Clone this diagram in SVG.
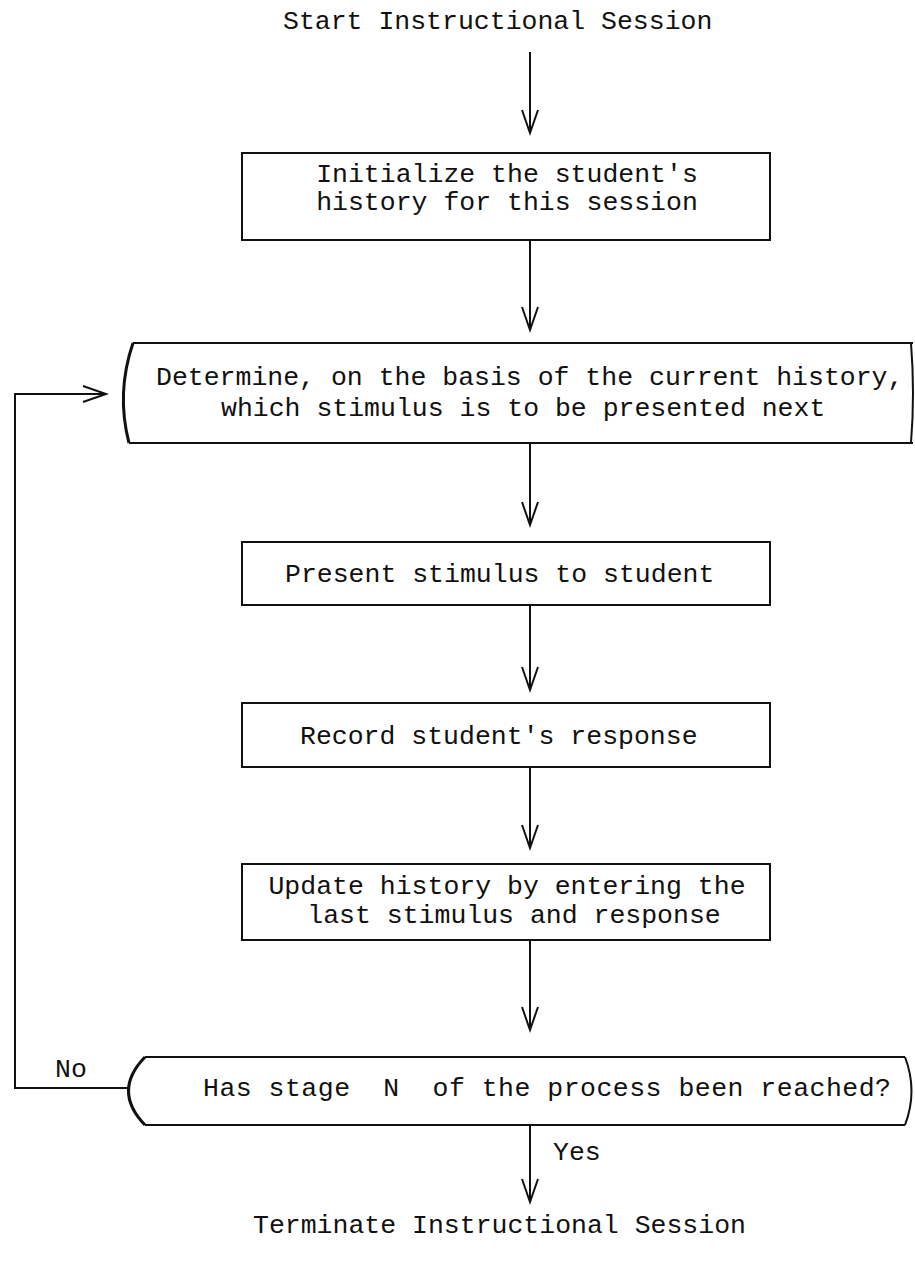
<svg xmlns="http://www.w3.org/2000/svg" width="915" height="1266" viewBox="0 0 915 1266">
<style>
  .t { font-family: "Liberation Mono", "DejaVu Sans Mono", monospace; font-size: 26.5px; fill: #111; }
  .box { fill: none; stroke: #111; stroke-width: 2; }
  .br { fill: none; stroke: #111; stroke-width: 3; }
  .c { fill: none; stroke: #111; stroke-width: 2; }
</style>
<defs>
  <marker id="ah" markerUnits="userSpaceOnUse" markerWidth="30" markerHeight="24" viewBox="0 0 30 24" refX="24" refY="9" orient="auto">
    <path d="M1,1 L24,9 L1,17" fill="none" stroke="#111" stroke-width="2"/>
  </marker>
</defs>
<rect width="915" height="1266" fill="#fff"/>

<g id="start">
  <text class="t" x="283" y="29">Start Instructional Session</text>
</g>

<g id="init">
  <rect class="box" x="242" y="153" width="528" height="87"/>
  <text class="t" x="507" y="182" text-anchor="middle">Initialize the student's</text>
  <text class="t" x="507" y="210" text-anchor="middle">history for this session</text>
</g>

<g id="determine">
  <path class="box" d="M133,343 H913 M129,443 H913"/>
  <path class="br" d="M133,343 Q116,393 129,443"/>
  <path class="box" d="M911,343 Q915,393 911,443"/>
  <text class="t" x="156" y="385">Determine, on the basis of the current history,</text>
  <text class="t" x="221" y="416">which stimulus is to be presented next</text>
</g>

<g id="present">
  <rect class="box" x="242" y="542" width="528" height="63"/>
  <text class="t" x="285" y="582">Present stimulus to student</text>
</g>

<g id="record">
  <rect class="box" x="242" y="703" width="528" height="64"/>
  <text class="t" x="300" y="744">Record student's response</text>
</g>

<g id="update">
  <rect class="box" x="242" y="864" width="528" height="76"/>
  <text class="t" x="507" y="894" text-anchor="middle">Update history by entering the</text>
  <text class="t" x="514" y="923" text-anchor="middle">last stimulus and response</text>
</g>

<g id="decision">
  <path class="box" d="M145,1057 H905 M145,1125 H905"/>
  <path class="br" d="M145,1057 Q112,1091 145,1125"/>
  <path class="box" d="M905,1057 Q918,1091 905,1125"/>
  <text class="t" x="203" y="1096" xml:space="preserve" textLength="688" lengthAdjust="spacing">Has stage  N  of the process been reached?</text>
</g>

<g id="terminate">
  <text class="t" x="253" y="1233">Terminate Instructional Session</text>
</g>

<g id="connectors">
  <line class="c" x1="530" y1="52" x2="530" y2="133" marker-end="url(#ah)"/>
  <line class="c" x1="530" y1="240" x2="530" y2="330" marker-end="url(#ah)"/>
  <line class="c" x1="530" y1="443" x2="530" y2="525" marker-end="url(#ah)"/>
  <line class="c" x1="530" y1="605" x2="530" y2="690" marker-end="url(#ah)"/>
  <line class="c" x1="530" y1="767" x2="530" y2="848" marker-end="url(#ah)"/>
  <line class="c" x1="530" y1="940" x2="530" y2="1030" marker-end="url(#ah)"/>
  <line class="c" x1="530" y1="1125" x2="530" y2="1202" marker-end="url(#ah)"/>
  <polyline class="c" points="128,1088 15,1088 15,394 106,394" marker-end="url(#ah)"/>
  <text class="t" x="55" y="1077">No</text>
  <text class="t" x="553" y="1160">Yes</text>
</g>
</svg>
